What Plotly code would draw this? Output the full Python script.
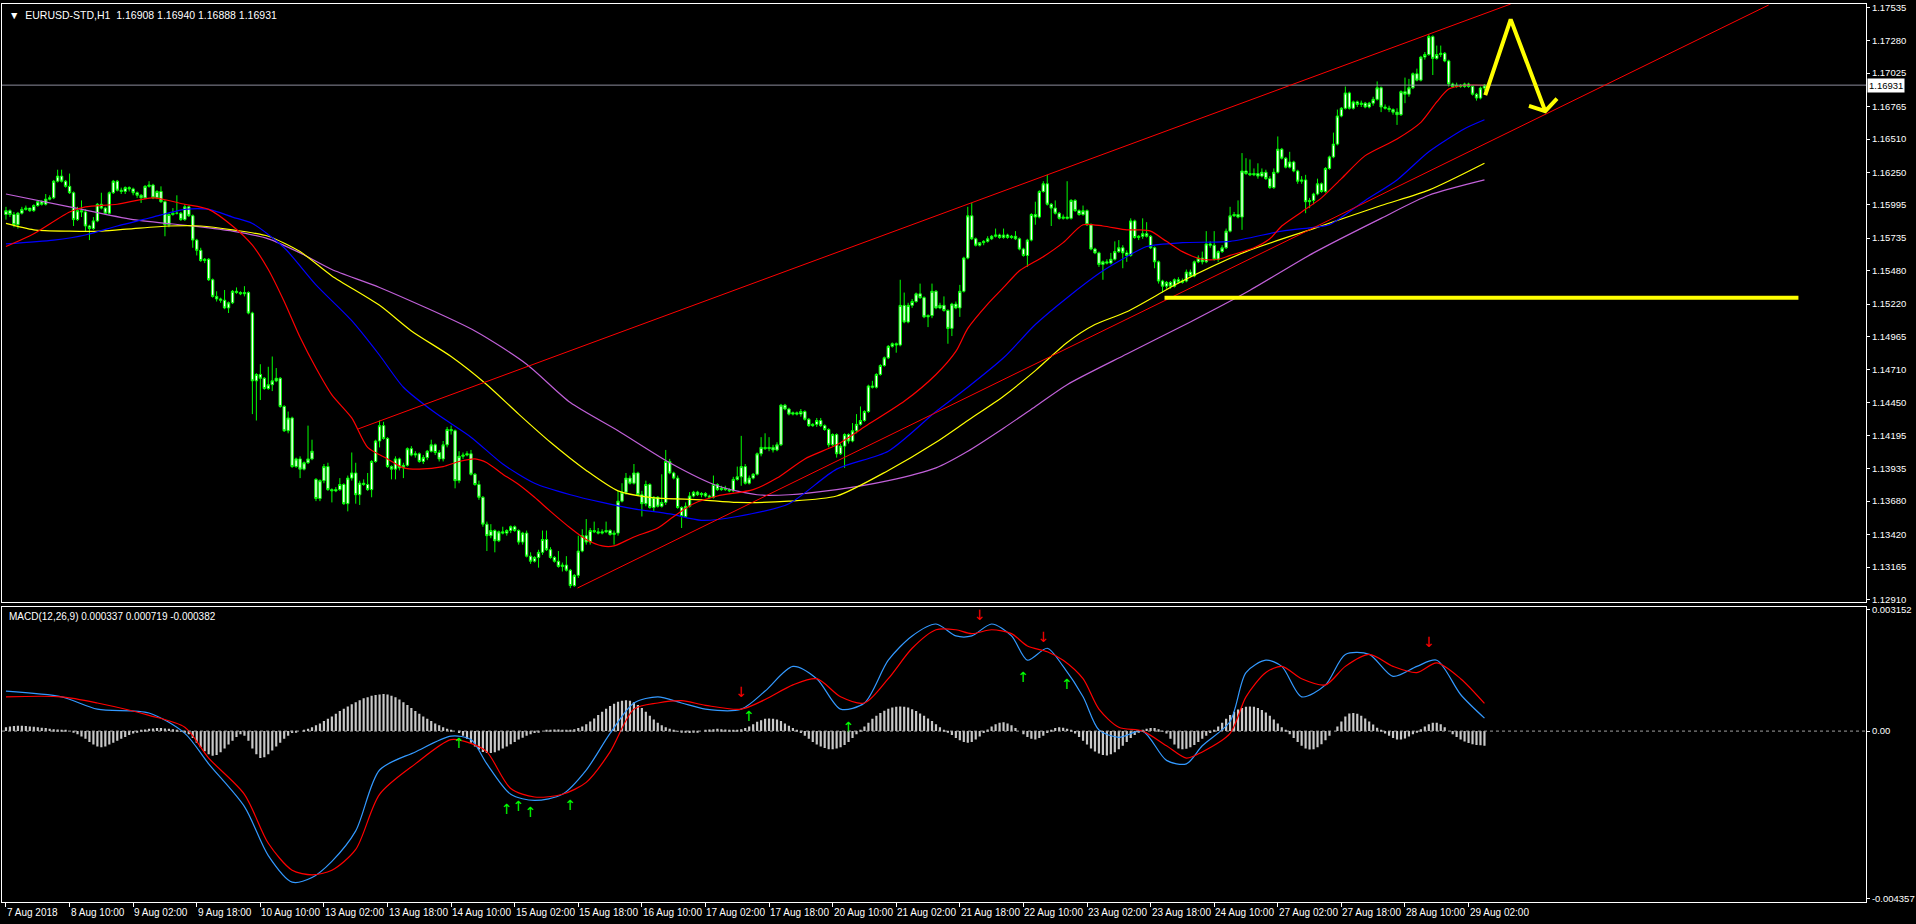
import plotly.graph_objects as go

# ---------------- data ----------------
tick_bars = [0, 16, 32, 48, 64, 80, 96, 112, 128, 144, 160, 176, 192, 208, 224, 240,
             256, 272, 288, 304, 320, 336, 352, 368]
tick_text = ["7 Aug 2018", "8 Aug 10:00", "9 Aug 02:00", "9 Aug 18:00", "10 Aug 10:00",
             "13 Aug 02:00", "13 Aug 18:00", "14 Aug 10:00", "15 Aug 02:00", "15 Aug 18:00",
             "16 Aug 10:00", "17 Aug 02:00", "17 Aug 18:00", "20 Aug 10:00", "21 Aug 02:00",
             "21 Aug 18:00", "22 Aug 10:00", "23 Aug 02:00", "23 Aug 18:00", "24 Aug 10:00",
             "27 Aug 02:00", "27 Aug 18:00", "28 Aug 10:00", "29 Aug 02:00"]

price_ticks = [1.17535, 1.17280, 1.17025, 1.16765, 1.16510, 1.16250, 1.15995, 1.15735,
               1.15480, 1.15220, 1.14965, 1.14710, 1.14450, 1.14195, 1.13935, 1.13680,
               1.13420, 1.13165, 1.12910]
macd_ticks = [0.003152, 0.0, -0.004357]
macd_tick_text = ["0.003152", "0.00", "-0.004357"]

open_ = [1.1592,1.1595,1.1592,1.1584,1.1593,1.1596,1.1597,1.1595,1.1599,1.1602,
1.1600,1.1604,1.1605,1.1618,1.1622,1.1618,1.1614,1.1609,1.1588,1.1595,
1.1594,1.1583,1.1581,1.1587,1.1600,1.1597,1.1593,1.1609,1.1618,1.1611,
1.1610,1.1613,1.1612,1.1609,1.1607,1.1605,1.1614,1.1615,1.1605,1.1610,
1.1602,1.1584,1.1592,1.1593,1.1593,1.1588,1.1598,1.1591,1.1572,1.1564,
1.1556,1.1557,1.1541,1.1528,1.1526,1.1525,1.1519,1.1523,1.1532,1.1531,
1.1530,1.1531,1.1515,1.1462,1.1467,1.1464,1.1456,1.1459,1.1462,1.1464,
1.1442,1.1423,1.1433,1.1395,1.1401,1.1393,1.1398,1.1401,1.1385,1.1370,
1.1384,1.1395,1.1377,1.1376,1.1377,1.1381,1.1366,1.1386,1.1390,1.1373,
1.1382,1.1381,1.1377,1.1399,1.1415,1.1427,1.1417,1.1395,1.1393,1.1401,
1.1394,1.1396,1.1409,1.1404,1.1405,1.1399,1.1402,1.1407,1.1412,1.1406,
1.1401,1.1412,1.1424,1.1423,1.1384,1.1403,1.1404,1.1405,1.1389,1.1381,
1.1371,1.1350,1.1341,1.1345,1.1337,1.1344,1.1343,1.1345,1.1348,1.1345,
1.1336,1.1343,1.1325,1.1321,1.1324,1.1328,1.1338,1.1330,1.1324,1.1321,
1.1317,1.1318,1.1314,1.1302,1.1310,1.1329,1.1341,1.1336,1.1345,1.1344,
1.1343,1.1344,1.1345,1.1342,1.1343,1.1368,1.1375,1.1386,1.1382,1.1390,
1.1373,1.1366,1.1381,1.1363,1.1371,1.1364,1.1367,1.1399,1.1390,1.1386,
1.1363,1.1356,1.1364,1.1372,1.1375,1.1373,1.1374,1.1372,1.1371,1.1381,
1.1377,1.1378,1.1377,1.1376,1.1385,1.1387,1.1395,1.1382,1.1386,1.1389,
1.1405,1.1410,1.1409,1.1410,1.1408,1.1412,1.1443,1.1440,1.1436,1.1437,
1.1436,1.1438,1.1432,1.1427,1.1428,1.1431,1.1427,1.1424,1.1412,1.1420,
1.1405,1.1411,1.1420,1.1415,1.1423,1.1428,1.1431,1.1438,1.1458,1.1457,
1.1467,1.1474,1.1480,1.1489,1.1491,1.1490,1.1521,1.1508,1.1521,1.1524,
1.1530,1.1527,1.1512,1.1513,1.1532,1.1519,1.1521,1.1517,1.1503,1.1522,
1.1519,1.1532,1.1558,1.1591,1.1573,1.1568,1.1570,1.1571,1.1573,1.1575,
1.1576,1.1574,1.1576,1.1574,1.1575,1.1573,1.1565,1.1560,1.1572,1.1592,
1.1590,1.1610,1.1616,1.1600,1.1597,1.1593,1.1589,1.1590,1.1589,1.1603,
1.1595,1.1592,1.1595,1.1584,1.1565,1.1562,1.1553,1.1555,1.1554,1.1557,
1.1563,1.1566,1.1562,1.1560,1.1587,1.1574,1.1575,1.1577,1.1575,1.1566,
1.1555,1.1540,1.1536,1.1539,1.1536,1.1541,1.1539,1.1540,1.1547,1.1544,
1.1555,1.1558,1.1555,1.1569,1.1568,1.1557,1.1563,1.1566,1.1579,1.1591,
1.1592,1.1590,1.1626,1.1624,1.1623,1.1624,1.1622,1.1625,1.1620,1.1613,
1.1625,1.1643,1.1636,1.1629,1.1633,1.1626,1.1618,1.1619,1.1602,1.1603,
1.1608,1.1616,1.1610,1.1628,1.1637,1.1647,1.1669,1.1675,1.1687,1.1675,
1.1680,1.1678,1.1679,1.1676,1.1679,1.1682,1.1691,1.1676,1.1675,1.1674,
1.1672,1.1670,1.1688,1.1686,1.1691,1.1702,1.1697,1.1715,1.1717,1.1731,
1.1714,1.1717,1.1718,1.1712,1.1694,1.1692,1.1693,1.1692,1.1694,1.1692,
1.1686,1.1683,1.16908]

high_ = [1.1598,1.1596,1.1594,1.1594,1.1598,1.1599,1.1597,1.1600,1.1603,1.1603,
1.1608,1.1607,1.1619,1.1627,1.1627,1.1619,1.1624,1.1610,1.1598,1.1603,
1.1596,1.1584,1.1590,1.1601,1.1609,1.1598,1.1610,1.1619,1.1619,1.1613,
1.1614,1.1614,1.1613,1.1610,1.1608,1.1615,1.1618,1.1616,1.1611,1.1614,
1.1603,1.1593,1.1597,1.1607,1.1594,1.1600,1.1599,1.1592,1.1573,1.1566,
1.1558,1.1558,1.1542,1.1532,1.1527,1.1533,1.1524,1.1533,1.1535,1.1532,
1.1536,1.1532,1.1516,1.1468,1.1475,1.1465,1.1473,1.1481,1.1472,1.1465,
1.1443,1.1438,1.1434,1.1402,1.1403,1.1399,1.1427,1.1416,1.1386,1.1385,
1.1397,1.1398,1.1378,1.1379,1.1386,1.1382,1.1388,1.1406,1.1398,1.1384,
1.1385,1.1390,1.1400,1.1416,1.1431,1.1430,1.1418,1.1396,1.1403,1.1402,
1.1398,1.1410,1.1411,1.1407,1.1406,1.1404,1.1408,1.1416,1.1413,1.1408,
1.1415,1.1426,1.1427,1.1424,1.1407,1.1406,1.1407,1.1408,1.1390,1.1384,
1.1372,1.1352,1.1350,1.1346,1.1345,1.1348,1.1346,1.1349,1.1349,1.1346,
1.1344,1.1345,1.1328,1.1325,1.1330,1.1345,1.1345,1.1332,1.1325,1.1329,
1.1320,1.1325,1.1315,1.1311,1.1341,1.1346,1.1354,1.1347,1.1352,1.1347,
1.1346,1.1352,1.1346,1.1345,1.1376,1.1382,1.1390,1.1388,1.1397,1.1391,
1.1376,1.1384,1.1382,1.1372,1.1372,1.1389,1.1408,1.1401,1.1391,1.1388,
1.1364,1.1367,1.1375,1.1376,1.1376,1.1375,1.1375,1.1373,1.1388,1.1382,
1.1380,1.1380,1.1378,1.1387,1.1395,1.1419,1.1397,1.1388,1.1390,1.1406,
1.1418,1.1421,1.1418,1.1412,1.1414,1.1444,1.1444,1.1441,1.1438,1.1438,
1.1440,1.1439,1.1433,1.1429,1.1433,1.1433,1.1428,1.1425,1.1421,1.1421,
1.1413,1.1421,1.1421,1.1429,1.1436,1.1442,1.1439,1.1459,1.1462,1.1468,
1.1475,1.1481,1.1490,1.1492,1.1492,1.1541,1.1531,1.1523,1.1526,1.1531,
1.1538,1.1528,1.1514,1.1538,1.1533,1.1523,1.1528,1.1518,1.1523,1.1524,
1.1537,1.1559,1.1598,1.1601,1.1574,1.1570,1.1572,1.1575,1.1576,1.1581,
1.1577,1.1581,1.1577,1.1576,1.1579,1.1574,1.1566,1.1573,1.1593,1.1602,
1.1611,1.1618,1.1623,1.1601,1.1603,1.1594,1.1592,1.1618,1.1604,1.1604,
1.1596,1.1599,1.1596,1.1585,1.1566,1.1563,1.1556,1.1557,1.1562,1.1571,
1.1572,1.1568,1.1564,1.1589,1.1588,1.1576,1.1589,1.1586,1.1576,1.1567,
1.1556,1.1541,1.1540,1.1540,1.1542,1.1543,1.1542,1.1549,1.1549,1.1556,
1.1560,1.1563,1.1579,1.1571,1.1579,1.1564,1.1568,1.1581,1.1598,1.1594,
1.1603,1.1640,1.1636,1.1635,1.1628,1.1632,1.1628,1.1627,1.1622,1.1628,
1.1653,1.1644,1.1637,1.1641,1.1634,1.1627,1.1622,1.1623,1.1605,1.1609,
1.1620,1.1617,1.1629,1.1638,1.1656,1.1674,1.1676,1.1692,1.1688,1.1681,
1.1681,1.1681,1.1680,1.1680,1.1684,1.1696,1.1692,1.1678,1.1677,1.1675,
1.1675,1.1689,1.1699,1.1698,1.1703,1.1706,1.1716,1.1719,1.1733,1.1732,
1.1724,1.1724,1.1719,1.1713,1.1695,1.1695,1.1694,1.1695,1.1695,1.1693,
1.1687,1.1692,1.16940]

low_ = [1.1588,1.1590,1.1582,1.1581,1.1592,1.1595,1.1594,1.1594,1.1598,1.1599,
1.1599,1.1603,1.1604,1.1617,1.1617,1.1613,1.1608,1.1583,1.1587,1.1590,
1.1579,1.1572,1.1580,1.1586,1.1596,1.1592,1.1592,1.1608,1.1610,1.1608,
1.1608,1.1610,1.1607,1.1605,1.1601,1.1604,1.1613,1.1604,1.1604,1.1601,
1.1575,1.1582,1.1591,1.1592,1.1587,1.1587,1.1590,1.1566,1.1560,1.1555,
1.1554,1.1540,1.1527,1.1524,1.1523,1.1518,1.1515,1.1522,1.1530,1.1529,
1.1528,1.1514,1.1436,1.1431,1.1447,1.1455,1.1455,1.1454,1.1461,1.1441,
1.1422,1.1421,1.1394,1.1394,1.1386,1.1392,1.1397,1.1400,1.1368,1.1368,
1.1382,1.1376,1.1367,1.1375,1.1376,1.1365,1.1360,1.1384,1.1366,1.1365,
1.1380,1.1376,1.1371,1.1398,1.1410,1.1416,1.1394,1.1385,1.1385,1.1392,
1.1386,1.1395,1.1403,1.1402,1.1398,1.1397,1.1400,1.1406,1.1404,1.1399,
1.1399,1.1410,1.1420,1.1378,1.1382,1.1401,1.1403,1.1388,1.1380,1.1369,
1.1348,1.1329,1.1339,1.1328,1.1336,1.1342,1.1341,1.1343,1.1344,1.1334,
1.1334,1.1324,1.1319,1.1320,1.1316,1.1326,1.1329,1.1323,1.1320,1.1316,
1.1313,1.1313,1.1300,1.1301,1.1308,1.1328,1.1334,1.1334,1.1343,1.1342,
1.1342,1.1343,1.1341,1.1334,1.1341,1.1367,1.1373,1.1381,1.1381,1.1372,
1.1356,1.1364,1.1362,1.1360,1.1363,1.1363,1.1365,1.1389,1.1385,1.1362,
1.1347,1.1355,1.1363,1.1371,1.1372,1.1371,1.1371,1.1370,1.1370,1.1376,
1.1376,1.1376,1.1375,1.1375,1.1384,1.1380,1.1381,1.1381,1.1385,1.1388,
1.1403,1.1408,1.1407,1.1406,1.1407,1.1411,1.1439,1.1435,1.1435,1.1435,
1.1434,1.1431,1.1426,1.1426,1.1426,1.1426,1.1423,1.1410,1.1411,1.1402,
1.1404,1.1394,1.1413,1.1414,1.1421,1.1427,1.1430,1.1437,1.1456,1.1456,
1.1466,1.1473,1.1479,1.1488,1.1484,1.1489,1.1507,1.1507,1.1519,1.1523,
1.1526,1.1511,1.1504,1.1511,1.1518,1.1518,1.1516,1.1491,1.1497,1.1518,
1.1512,1.1531,1.1557,1.1572,1.1567,1.1567,1.1568,1.1570,1.1572,1.1574,
1.1573,1.1573,1.1573,1.1573,1.1572,1.1564,1.1559,1.1551,1.1571,1.1584,
1.1589,1.1609,1.1599,1.1583,1.1592,1.1588,1.1588,1.1588,1.1588,1.1594,
1.1591,1.1591,1.1583,1.1564,1.1561,1.1551,1.1541,1.1553,1.1553,1.1556,
1.1562,1.1550,1.1555,1.1559,1.1573,1.1572,1.1573,1.1574,1.1565,1.1550,
1.1538,1.1531,1.1534,1.1534,1.1535,1.1538,1.1538,1.1539,1.1543,1.1543,
1.1554,1.1553,1.1554,1.1566,1.1556,1.1555,1.1562,1.1565,1.1578,1.1590,
1.1589,1.1580,1.1623,1.1622,1.1622,1.1620,1.1621,1.1619,1.1612,1.1612,
1.1624,1.1635,1.1628,1.1628,1.1625,1.1616,1.1616,1.1593,1.1597,1.1600,
1.1607,1.1609,1.1609,1.1627,1.1636,1.1646,1.1668,1.1674,1.1674,1.1674,
1.1676,1.1676,1.1675,1.1675,1.1677,1.1681,1.1672,1.1674,1.1672,1.1670,
1.1662,1.1669,1.1679,1.1684,1.1690,1.1696,1.1696,1.1713,1.1716,1.1701,
1.1713,1.1715,1.1711,1.1692,1.1691,1.1691,1.1691,1.1691,1.1691,1.1685,
1.1681,1.1682,1.16888]

close_ = [1.1595,1.1592,1.1584,1.1593,1.1596,1.1597,1.1595,1.1599,1.1602,1.1600,
1.1604,1.1605,1.1618,1.1622,1.1618,1.1614,1.1609,1.1588,1.1595,1.1594,
1.1583,1.1581,1.1587,1.1600,1.1597,1.1593,1.1609,1.1618,1.1611,1.1610,
1.1613,1.1612,1.1609,1.1607,1.1605,1.1614,1.1615,1.1605,1.1610,1.1602,
1.1584,1.1592,1.1593,1.1593,1.1588,1.1598,1.1591,1.1572,1.1564,1.1556,
1.1557,1.1541,1.1528,1.1526,1.1525,1.1519,1.1523,1.1532,1.1531,1.1530,
1.1531,1.1515,1.1462,1.1467,1.1464,1.1456,1.1459,1.1462,1.1464,1.1442,
1.1423,1.1433,1.1395,1.1401,1.1393,1.1398,1.1401,1.1407,1.1370,1.1384,
1.1395,1.1377,1.1376,1.1377,1.1381,1.1366,1.1386,1.1390,1.1373,1.1382,
1.1381,1.1377,1.1399,1.1415,1.1427,1.1417,1.1395,1.1393,1.1401,1.1394,
1.1396,1.1409,1.1404,1.1405,1.1399,1.1402,1.1407,1.1412,1.1406,1.1401,
1.1412,1.1424,1.1423,1.1384,1.1403,1.1404,1.1405,1.1389,1.1381,1.1371,
1.1350,1.1341,1.1345,1.1337,1.1344,1.1343,1.1345,1.1348,1.1345,1.1336,
1.1343,1.1325,1.1321,1.1324,1.1328,1.1338,1.1330,1.1324,1.1321,1.1317,
1.1318,1.1314,1.1302,1.1310,1.1329,1.1341,1.1336,1.1345,1.1344,1.1343,
1.1344,1.1345,1.1342,1.1343,1.1368,1.1375,1.1386,1.1382,1.1390,1.1373,
1.1366,1.1381,1.1363,1.1371,1.1364,1.1367,1.1399,1.1390,1.1386,1.1363,
1.1356,1.1364,1.1372,1.1375,1.1373,1.1374,1.1372,1.1371,1.1381,1.1377,
1.1378,1.1377,1.1376,1.1385,1.1387,1.1395,1.1382,1.1386,1.1389,1.1405,
1.1410,1.1409,1.1410,1.1408,1.1412,1.1443,1.1440,1.1436,1.1437,1.1436,
1.1438,1.1432,1.1427,1.1428,1.1431,1.1427,1.1424,1.1412,1.1420,1.1405,
1.1411,1.1420,1.1415,1.1423,1.1428,1.1431,1.1438,1.1458,1.1457,1.1467,
1.1474,1.1480,1.1489,1.1491,1.1490,1.1521,1.1508,1.1521,1.1524,1.1530,
1.1527,1.1512,1.1513,1.1532,1.1519,1.1521,1.1517,1.1503,1.1522,1.1519,
1.1532,1.1558,1.1591,1.1573,1.1568,1.1570,1.1571,1.1573,1.1575,1.1576,
1.1574,1.1576,1.1574,1.1575,1.1573,1.1565,1.1560,1.1572,1.1592,1.1590,
1.1610,1.1616,1.1600,1.1597,1.1593,1.1589,1.1590,1.1589,1.1603,1.1595,
1.1592,1.1595,1.1584,1.1565,1.1562,1.1553,1.1555,1.1554,1.1557,1.1563,
1.1566,1.1562,1.1560,1.1587,1.1574,1.1575,1.1577,1.1575,1.1566,1.1555,
1.1540,1.1536,1.1539,1.1536,1.1541,1.1539,1.1540,1.1547,1.1544,1.1555,
1.1558,1.1555,1.1569,1.1568,1.1557,1.1563,1.1566,1.1579,1.1591,1.1592,
1.1590,1.1626,1.1624,1.1623,1.1624,1.1622,1.1625,1.1620,1.1613,1.1625,
1.1643,1.1636,1.1629,1.1633,1.1626,1.1618,1.1619,1.1602,1.1603,1.1608,
1.1616,1.1610,1.1628,1.1637,1.1647,1.1669,1.1675,1.1687,1.1675,1.1680,
1.1678,1.1679,1.1676,1.1679,1.1682,1.1691,1.1676,1.1675,1.1674,1.1672,
1.1670,1.1688,1.1686,1.1691,1.1702,1.1697,1.1715,1.1717,1.1731,1.1714,
1.1717,1.1718,1.1712,1.1694,1.1692,1.1693,1.1692,1.1694,1.1692,1.1686,
1.1683,1.16908,1.16931]

# moving averages, sampled along the curves (bar index, price)
ma_red_x = [0,7,16,20,28,37,45,51,57,62,66,70,74,78,82,87,91,96,100,104,110,114,118,121,125,
            129,133,137,142,146,150,153,158,164,168,173,179,188,194,201,209,217,226,234,239,
            242,247,251,255,261,266,271,276,282,285,288,292,296,301,305,308,314,318,321,326,
            331,336,342,350,356,360,363,367,372]
ma_red_y = [1.1567,1.1577,1.1594,1.1598,1.1600,1.1605,1.1600,1.1596,1.1583,1.1568,1.1549,1.1524,
            1.1496,1.1472,1.1451,1.1433,1.1410,1.1401,1.1394,1.1393,1.1395,1.1399,1.1401,1.1398,
            1.1389,1.1381,1.1371,1.1360,1.1347,1.1338,1.1333,1.1333,1.1340,1.1347,1.1356,1.1366,
            1.1372,1.1377,1.1386,1.1401,1.1412,1.1428,1.1446,1.1467,1.1485,1.1503,1.1522,1.1535,
            1.1548,1.1559,1.1570,1.1584,1.1583,1.1580,1.1580,1.1579,1.1571,1.1563,1.1557,1.1557,
            1.1560,1.1566,1.1573,1.1583,1.1594,1.1605,1.1620,1.1638,1.1651,1.1664,1.1680,1.1690,
            1.1693,1.1693]
ma_blue_x = [0,12,20,28,37,45,51,57,62,70,78,87,94,100,108,117,125,133,142,150,158,167,175,184,
             197,209,222,234,242,251,259,267,276,282,287,296,308,321,329,333,342,350,358,367,372]
ma_blue_y = [1.1569,1.1572,1.1576,1.1583,1.1590,1.1596,1.1596,1.1590,1.1585,1.1566,1.1537,1.1509,
             1.1482,1.1457,1.1437,1.1418,1.1397,1.1382,1.1373,1.1367,1.1362,1.1358,1.1353,1.1356,
             1.1366,1.1393,1.1407,1.1438,1.1457,1.1480,1.1506,1.1527,1.1548,1.1559,1.1567,1.1570,
             1.1571,1.1579,1.1582,1.1584,1.1603,1.1619,1.1641,1.1659,1.1666]
ma_yellow_x = [0,7,16,24,32,41,49,57,66,74,82,94,102,112,121,129,137,146,154,162,175,184,197,209,
               222,234,242,251,259,267,274,282,296,312,329,346,358,372]
ma_yellow_y = [1.1585,1.1580,1.1579,1.1579,1.1581,1.1583,1.1583,1.1580,1.1575,1.1563,1.1544,1.1521,
               1.1501,1.1481,1.1459,1.1436,1.1414,1.1392,1.1376,1.1371,1.1369,1.1367,1.1368,1.1372,
               1.1392,1.1414,1.1431,1.1450,1.1470,1.1492,1.1506,1.1516,1.1540,1.1563,1.1581,1.1599,
               1.1611,1.1632]
ma_violet_x = [0,16,32,47,57,66,74,82,94,118,131,142,154,167,179,189,197,209,222,234,242,251,259,
               267,282,298,312,329,346,358,372]
ma_violet_y = [1.1608,1.1598,1.1588,1.1583,1.1579,1.1573,1.1562,1.1549,1.1535,1.1501,1.1475,1.1445,
               1.1423,1.1398,1.1380,1.1373,1.1373,1.1377,1.1384,1.1394,1.1407,1.1425,1.1442,1.1459,
               1.1483,1.1508,1.1531,1.1562,1.1589,1.1607,1.1619]

# hand-drawn objects (bar index, price)
upper_channel_x = [88.5, 378.6]
upper_channel_y = [1.14243, 1.17565]
lower_channel_x = [143.8, 443.5]
lower_channel_y = [1.13001, 1.17557]
support_x = [291.5, 451.0]
support_y = [1.15270, 1.15270]
arrow_x = [372.2, 378.6, 387.3]
arrow_y = [1.16853, 1.17445, 1.16728]
arrowhead_x = [383.2, 387.3, 390.25]
arrowhead_y = [1.16769, 1.16728, 1.16826]

# MACD(12,26,9) main and signal lines, sampled (bar index, value)
macd_x = [0,14,23,36,45,51,60,66,72,77,82,88,94,103,112,117,121,127,133,140,146,152,158,164,170,
          176,185,191,198,204,210,216,222,228,234,239,243,248,253,257,262,266,271,275,280,286,292,
          297,301,308,312,317,321,326,332,337,343,349,355,360,366,372]
macd_main = [0.00104,0.00089,0.00057,0.00047,-0.00006,-0.00085,-0.00196,-0.00323,-0.00392,-0.00380,
             -0.00338,-0.00259,-0.00101,-0.00054,-0.00013,-0.00022,-0.00085,-0.00164,-0.00180,-0.00164,
             -0.00101,-0.00006,0.00073,0.00089,0.00073,0.00057,0.00057,0.00104,0.00168,0.00136,0.00057,
             0.00073,0.00184,0.00247,0.00278,0.00247,0.00247,0.00278,0.00247,0.00184,0.00215,0.00168,
             0.00089,0.00003,-0.00016,0.0,-0.00076,-0.00085,-0.00038,0.00025,0.00152,0.00184,0.00168,
             0.00089,0.00120,0.00199,0.00199,0.00142,0.00168,0.00184,0.00095,0.000337]
macd_signal = [0.00089,0.00089,0.00073,0.00041,0.00010,-0.00070,-0.00164,-0.00291,-0.00361,-0.00373,
               -0.00361,-0.00307,-0.00164,-0.00085,-0.00022,-0.00032,-0.00054,-0.00149,-0.00171,-0.00164,
               -0.00133,-0.00054,0.00057,0.00073,0.00079,0.00067,0.00057,0.00082,0.00120,0.00136,0.00089,
               0.00073,0.00136,0.00215,0.00263,0.00263,0.00253,0.00263,0.00253,0.00221,0.00206,0.00184,
               0.00136,0.00057,0.00010,0.0,-0.00038,-0.00070,-0.00054,-0.00006,0.00089,0.00152,0.00168,
               0.00136,0.00120,0.00168,0.00199,0.00168,0.00152,0.00177,0.00136,0.000719]
# MACD histogram, one value per bar
macd_hist = [
0.00010,0.00012,0.00013,0.00014,0.00014,0.00013,0.00012,0.00011,0.00010,0.00009,0.00008,0.00006,0.00005,
0.00004,0.00003,0.00002,0.00000,-0.00003,
-0.00008,-0.00014,-0.00020,-0.00028,-0.00035,-0.00040,-0.00042,-0.00040,-0.00035,-0.00030,-0.00025,-0.00020,-0.00015,-0.00010,-0.00006,-0.00003,
0.00002,0.00004,0.00006,0.00007,0.00008,0.00008,0.00007,0.00006,0.00005,0.00003,0.00001,-0.00002,
-0.00008,-0.00018,-0.00030,-0.00042,-0.00052,-0.00060,-0.00064,-0.00062,-0.00055,-0.00045,-0.00035,-0.00025,-0.00015,-0.00008,
-0.00012,-0.00025,-0.00045,-0.00060,-0.00070,-0.00068,-0.00060,-0.00050,-0.00040,-0.00030,-0.00020,-0.00012,-0.00005,
-0.00002,0.00000,0.00003,0.00006,0.00010,0.00015,0.00020,0.00026,
0.00032,0.00038,0.00045,0.00052,0.00058,0.00064,0.00070,0.00075,0.00080,0.00085,0.00088,0.00092,0.00094,0.00095,0.00096,0.00095,0.00092,0.00088,0.00082,0.00075,0.00068,0.00060,0.00052,
0.00045,0.00038,0.00032,0.00026,0.00020,0.00015,0.00010,0.00006,0.00003,0.00000,
-0.00005,-0.00012,-0.00020,-0.00030,-0.00040,-0.00048,-0.00054,-0.00057,-0.00057,-0.00055,-0.00050,-0.00045,-0.00040,-0.00034,-0.00028,-0.00022,-0.00017,-0.00012,-0.00008,-0.00005,-0.00002,
0.00000,0.00002,0.00003,0.00004,0.00004,0.00003,0.00002,0.00003,0.00005,0.00008,0.00012,
0.00018,0.00025,0.00033,0.00042,0.00050,0.00058,0.00065,0.00071,0.00076,0.00079,0.00080,0.00079,0.00075,0.00068,0.00060,0.00050,0.00040,0.00030,
0.00022,0.00015,0.00010,0.00006,0.00003,0.00001,-0.00002,-0.00004,-0.00005,-0.00004,-0.00002,0.00000,
0.00002,0.00004,0.00005,0.00006,0.00005,0.00004,0.00003,0.00002,0.00003,0.00005,0.00008,0.00012,
0.00018,0.00024,0.00028,0.00032,0.00033,0.00032,0.00030,0.00026,0.00020,0.00014,0.00008,0.00002,
-0.00005,-0.00012,-0.00020,-0.00028,-0.00035,-0.00040,-0.00044,-0.00047,-0.00047,-0.00045,-0.00042,-0.00036,-0.00028,-0.00018,
-0.00008,0.00002,0.00012,0.00022,0.00032,0.00040,0.00047,0.00053,0.00058,0.00061,0.00063,0.00064,0.00063,0.00061,0.00057,0.00052,0.00046,0.00040,0.00033,0.00026,0.00018,0.00010,0.00003,-0.00003,
-0.00010,-0.00018,-0.00024,-0.00028,-0.00030,-0.00028,-0.00022,-0.00014,
-0.00005,0.00004,0.00012,0.00018,0.00022,0.00023,0.00020,0.00015,0.00008,0.00000,
-0.00008,-0.00015,-0.00020,-0.00022,-0.00018,-0.00012,-0.00005,
0.00003,0.00008,0.00010,0.00009,0.00006,0.00002,
-0.00006,-0.00015,-0.00025,-0.00035,-0.00045,-0.00053,-0.00058,-0.00062,-0.00063,-0.00060,-0.00055,-0.00047,-0.00038,-0.00028,-0.00018,-0.00010,-0.00003,
0.00003,0.00006,0.00008,0.00008,0.00005,0.00001,
-0.00006,-0.00020,-0.00035,-0.00045,-0.00047,-0.00046,-0.00042,-0.00036,-0.00028,-0.00020,-0.00012,-0.00005,
0.00003,0.00012,0.00022,0.00032,0.00042,0.00050,0.00056,0.00060,0.00063,0.00064,0.00063,0.00060,0.00055,0.00048,0.00040,0.00030,0.00020,0.00010,0.00002,
-0.00008,-0.00018,-0.00028,-0.00038,-0.00045,-0.00048,-0.00047,-0.00042,-0.00034,-0.00024,-0.00012,
0.00000,0.00012,0.00025,0.00038,0.00046,0.00047,0.00045,0.00040,0.00033,0.00025,0.00017,0.00009,0.00002,
-0.00006,-0.00012,-0.00018,-0.00022,-0.00022,-0.00019,-0.00014,-0.00008,-0.00002,
0.00005,0.00012,0.00018,0.00022,0.00022,0.00018,0.00010,
0.00000,-0.00008,-0.00015,-0.00022,-0.00027,-0.00031,-0.00034,-0.00036,-0.00037,-0.000382]
up_arrow_x = [114,126,129,132,142,187,212,256,267]
up_arrow_y = [-0.00016,-0.00188,-0.00180,-0.00196,-0.00177,0.00054,0.00025,0.00155,0.00136]
down_arrow_x = [185,245,261,358]
down_arrow_y = [0.00079,0.00280,0.00221,0.00208]

# ---------------- figure ----------------
bars = list(range(len(close_)))
FONT = "Liberation Sans"
LIME = "#00FF00"

fig = go.Figure()

# MACD histogram first (drawn under the lines)
fig.add_trace(go.Bar(x=bars, y=macd_hist, marker=dict(color="#C8C8C8", line=dict(width=0)),
                     hoverinfo="skip", showlegend=False, xaxis="x2", yaxis="y2"))

fig.add_trace(go.Candlestick(
    x=bars, open=open_, high=high_, low=low_, close=close_,
    increasing=dict(line=dict(color=LIME, width=1), fillcolor="#FFFFFF"),
    decreasing=dict(line=dict(color=LIME, width=1), fillcolor="#FFFFFF"),
    whiskerwidth=0, hoverinfo="skip", showlegend=False, xaxis="x", yaxis="y"))

for xs, ys, col in [(ma_violet_x, ma_violet_y, "#C060D8"),
                    (ma_yellow_x, ma_yellow_y, "#FFFF00"),
                    (ma_blue_x, ma_blue_y, "#0000FF"),
                    (ma_red_x, ma_red_y, "#FF0000")]:
    fig.add_trace(go.Scatter(x=xs, y=ys, mode="lines",
                             line=dict(color=col, width=1.2, shape="spline", smoothing=0.7),
                             hoverinfo="skip", showlegend=False, xaxis="x", yaxis="y"))

# current price line
fig.add_trace(go.Scatter(x=[-1, 468], y=[close_[-1], close_[-1]], mode="lines",
                         line=dict(color="#8C8C9C", width=1), hoverinfo="skip",
                         showlegend=False, xaxis="x", yaxis="y"))

for xs, ys in [(upper_channel_x, upper_channel_y), (lower_channel_x, lower_channel_y)]:
    fig.add_trace(go.Scatter(x=xs, y=ys, mode="lines", line=dict(color="#FF0000", width=1),
                             hoverinfo="skip", showlegend=False, xaxis="x", yaxis="y"))

for xs, ys in [(support_x, support_y), (arrow_x, arrow_y), (arrowhead_x, arrowhead_y)]:
    fig.add_trace(go.Scatter(x=xs, y=ys, mode="lines", line=dict(color="#FFFF00", width=4),
                             hoverinfo="skip", showlegend=False, xaxis="x", yaxis="y"))

# MACD lines and signal arrows
fig.add_trace(go.Scatter(x=macd_x, y=macd_main, mode="lines",
                         line=dict(color="#3399FF", width=1.2, shape="spline", smoothing=0.8),
                         hoverinfo="skip", showlegend=False, xaxis="x2", yaxis="y2"))
fig.add_trace(go.Scatter(x=macd_x, y=macd_signal, mode="lines",
                         line=dict(color="#FF0000", width=1.2, shape="spline", smoothing=0.8),
                         hoverinfo="skip", showlegend=False, xaxis="x2", yaxis="y2"))
fig.add_trace(go.Scatter(x=up_arrow_x, y=up_arrow_y, mode="text", text=["↑"] * len(up_arrow_x),
                         textfont=dict(color=LIME, size=14, family="DejaVu Sans"),
                         textposition="bottom center", hoverinfo="skip", showlegend=False,
                         xaxis="x2", yaxis="y2"))
fig.add_trace(go.Scatter(x=down_arrow_x, y=down_arrow_y, mode="text", text=["↓"] * len(down_arrow_x),
                         textfont=dict(color="#FF0000", size=14, family="DejaVu Sans"),
                         textposition="top center", hoverinfo="skip", showlegend=False,
                         xaxis="x2", yaxis="y2"))

axis_common = dict(showgrid=False, zeroline=False, showline=True, linecolor="#FFFFFF",
                   linewidth=1, mirror=True)

annotations = []
for b, t in zip(tick_bars, tick_text):
    annotations.append(dict(x=b, y=0, xref="x2", yref="paper", text=t, showarrow=False,
                            xanchor="left", yanchor="top", yshift=-3, xshift=-1,
                            font=dict(color="#FFFFFF", size=10, family=FONT)))
annotations.append(dict(x=0, y=1, xref="paper", yref="paper",
                        text="\u25bc\u00a0\u00a0EURUSD-STD,H1\u00a0\u00a01.16908 1.16940 1.16888 1.16931",
                        showarrow=False, xanchor="left", yanchor="top", xshift=5, yshift=-3,
                        font=dict(color="#FFFFFF", size=10.5, family=FONT)))
annotations.append(dict(x=0, y=0.3289, xref="paper", yref="paper",
                        text="MACD(12,26,9) 0.000337 0.000719 -0.000382",
                        showarrow=False, xanchor="left", yanchor="top", xshift=5, yshift=-2,
                        font=dict(color="#FFFFFF", size=10, family=FONT)))
annotations.append(dict(x=1, y=close_[-1], xref="paper", yref="y", text="1.16931",
                        showarrow=False, xanchor="left", yanchor="middle", xshift=1,
                        bgcolor="#FFFFFF", borderpad=1,
                        font=dict(color="#000000", size=9.5, family=FONT)))

fig.update_layout(
    width=1916, height=924, paper_bgcolor="#000000", plot_bgcolor="#000000",
    margin=dict(l=1, r=40, t=2, b=22), showlegend=False, hovermode=False,
    boxgap=0.4, boxgroupgap=0, bargap=0.45,
    xaxis=dict(domain=[0, 1], anchor="y", range=[-1, 468], showticklabels=False,
               rangeslider=dict(visible=False), **axis_common),
    yaxis=dict(domain=[0.3344, 1], anchor="x", range=[1.12894, 1.17565], side="right",
               tickvals=price_ticks, ticktext=[f"{v:.5f}" for v in price_ticks],
               ticks="outside", ticklen=3, tickcolor="#FFFFFF",
               tickfont=dict(color="#FFFFFF", size=9.5, family=FONT), **axis_common),
    xaxis2=dict(domain=[0, 1], anchor="y2", matches="x", showticklabels=False,
                tickvals=tick_bars, ticks="outside", ticklen=4, tickcolor="#FFFFFF",
                **axis_common),
    yaxis2=dict(domain=[0, 0.3289], anchor="x2", range=[-0.004435, 0.003230], side="right",
                tickvals=macd_ticks, ticktext=macd_tick_text, ticks="outside", ticklen=3,
                tickcolor="#FFFFFF", tickfont=dict(color="#FFFFFF", size=9.5, family=FONT),
                **axis_common),
    annotations=annotations,
    shapes=[dict(type="line", xref="paper", yref="y2", x0=0, x1=1, y0=0, y1=0,
                 line=dict(color="#A0A0A0", width=1, dash="dot"))],
)

fig.write_html("out.html", config={"displayModeBar": False},
               post_script="document.body.style.margin='0px';document.body.style.overflow='hidden';")
